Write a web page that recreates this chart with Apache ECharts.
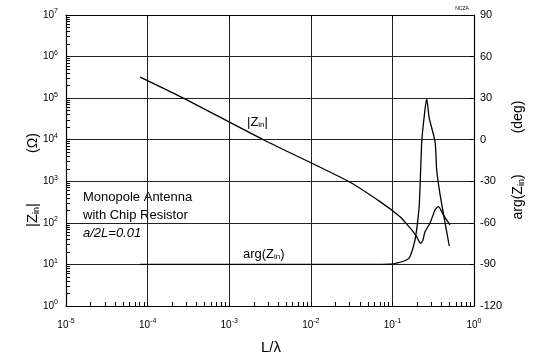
<!DOCTYPE html>
<html>
<head>
<meta charset="utf-8">
<script src="https://cdn.jsdelivr.net/npm/echarts@6/dist/echarts.min.js"></script>
<style>
html,body{margin:0;padding:0;background:#fff;}
#c{width:538px;height:361px;}
</style>
</head>
<body>
<div id="c"></div>
<script>
// L/lambda values and |Zin| (ohm)
const zX = [8.1e-5, 2.74e-4, 2.62e-3, 2.88e-2, 0.0705, 0.124, 0.15, 0.180, 0.199, 0.212, 0.222, 0.236, 0.251, 0.289, 0.333, 0.366, 0.402, 0.421, 0.508];
const zMag = [3.2e5, 1.0e5, 1.0e4, 1.0e3, 324, 141, 93, 61, 46, 36, 32, 38, 61, 98, 204, 245, 186, 155, 89];
// L/lambda values and arg(Zin) (deg)
const aX = [8.1e-5, 1e-3, 1e-2, 0.05, 0.0936, 0.113, 0.148, 0.164, 0.189, 0.203, 0.214, 0.229, 0.244, 0.263, 0.283, 0.333, 0.349, 0.38, 0.421, 0.498];
const aDeg = [-90, -90, -90, -90, -89.8, -89, -86.8, -84.4, -72.4, -60, -45.9, -1.4, 15.5, 29.4, 15.5, -1.4, -21.9, -38, -53.1, -76.7];
const rightTicks = [-120, -90, -60, -30, 0, 30, 60, 90];

const FONT = 'Liberation Sans';
const chart = echarts.init(document.getElementById('c'), null, {renderer: 'canvas'});

// tick positions: decades plus 2..9 per decade
function logTicks(lo, hi) {
  const out = [];
  for (let e = lo; e < hi; e++) for (let m = 1; m <= 9; m++) out.push(+(m * Math.pow(10, e)).toPrecision(3));
  out.push(Math.pow(10, hi));
  return out;
}
const xTicks = logTicks(-5, 0);
const yTicks = logTicks(0, 7);

function pow10Label(v) {
  const e = Math.round(Math.log10(v));
  return '{b|10}{s|' + e + '}';
}
const powRich = {
  b: {fontSize: 10, fontFamily: FONT, color: '#000'},
  s: {fontSize: 7, fontFamily: FONT, color: '#000', padding: [0, 0, 7, 0]}
};
const gridLine = {show: true, lineStyle: {color: '#222', width: 1}};
const axLine = {show: true, onZero: false, lineStyle: {color: '#000', width: 1.2}};
const majorTick = {show: true, inside: true, length: 4, lineStyle: {color: '#000', width: 1}};
function allTicks(vals) {
  return {show: true, inside: true, length: 4, customValues: vals, lineStyle: {color: '#000', width: 1}};
}

chart.setOption({
  animation: false,
  backgroundColor: '#fff',
  grid: {left: 66, right: 64, top: 15, bottom: 55, containLabel: false},
  xAxis: [{
    type: 'log', logBase: 10, min: 1e-5, max: 1, splitNumber: 5, position: 'bottom',
    axisLine: axLine, axisTick: allTicks(xTicks),
    axisLabel: {formatter: pow10Label, rich: powRich, margin: 12},
    splitLine: {show: false}
  }, {
    type: 'log', logBase: 10, min: 1e-5, max: 1, splitNumber: 5, position: 'top',
    axisLine: axLine, axisTick: majorTick,
    axisLabel: {show: false}, splitLine: gridLine
  }],
  yAxis: [{
    type: 'log', logBase: 10, min: 1, max: 1e7, splitNumber: 7, position: 'left',
    axisLine: axLine, axisTick: allTicks(yTicks),
    axisLabel: {formatter: pow10Label, rich: powRich, margin: 8},
    splitLine: {show: false}
  }, {
    type: 'value', min: -120, max: 90, interval: 30, position: 'right',
    axisLine: axLine, axisTick: majorTick,
    axisLabel: {fontSize: 11, fontFamily: FONT, color: '#000', margin: 6,
      formatter: v => rightTicks.includes(v) ? String(v) : ''},
    splitLine: gridLine
  }],
  series: [{
    type: 'line', xAxisIndex: 0, yAxisIndex: 0, showSymbol: false, smooth: 0.25,
    lineStyle: {color: '#000', width: 1.3},
    data: zX.map((x, i) => [x, zMag[i]])
  }, {
    type: 'line', xAxisIndex: 0, yAxisIndex: 1, showSymbol: false, smooth: 0.25,
    lineStyle: {color: '#000', width: 1.3},
    data: aX.map((x, i) => [x, aDeg[i]])
  }],
  graphic: [
    {type: 'text', x: 83, y: 197, style: {text: 'Monopole Antenna', font: '13px "Liberation Sans"', fill: '#000', verticalAlign: 'middle'}},
    {type: 'text', x: 83, y: 215, style: {text: 'with Chip Resistor', font: '13px "Liberation Sans"', fill: '#000', verticalAlign: 'middle'}},
    {type: 'text', x: 83, y: 233, style: {text: 'a/2L=0.01', font: 'italic 13px "Liberation Sans"', fill: '#000', verticalAlign: 'middle'}},
    {type: 'text', x: 247, y: 122, style: {text: '|Z{s|in}|', font: '13px "Liberation Sans"', fill: '#000', verticalAlign: 'middle',
      rich: {s: {fontSize: 8, fontFamily: FONT, padding: [6, 0, 0, 0]}}}},
    {type: 'text', x: 243, y: 254, style: {text: 'arg(Z{s|in})', font: '13px "Liberation Sans"', fill: '#000', verticalAlign: 'middle',
      rich: {s: {fontSize: 8, fontFamily: FONT, padding: [6, 0, 0, 0]}}}},
    {type: 'text', x: 33, y: 215, rotation: Math.PI / 2, style: {text: '|Z{s|in}|', font: '15px "Liberation Sans"', fill: '#000', align: 'center', verticalAlign: 'middle',
      rich: {s: {fontSize: 9, fontFamily: FONT, padding: [7, 0, 0, 0]}}}},
    {type: 'text', x: 33, y: 143, rotation: Math.PI / 2, style: {text: '(Ω)', font: '14px "Liberation Sans"', fill: '#000', align: 'center', verticalAlign: 'middle'}},
    {type: 'text', x: 518, y: 197, rotation: Math.PI / 2, style: {text: 'arg(Z{s|in})', font: '14px "Liberation Sans"', fill: '#000', align: 'center', verticalAlign: 'middle',
      rich: {s: {fontSize: 9, fontFamily: FONT, padding: [7, 0, 0, 0]}}}},
    {type: 'text', x: 518, y: 117, rotation: Math.PI / 2, style: {text: '(deg)', font: '14px "Liberation Sans"', fill: '#000', align: 'center', verticalAlign: 'middle'}},
    {type: 'text', x: 271, y: 348, style: {text: 'L/λ', font: '15px "Liberation Sans"', fill: '#000', align: 'center', verticalAlign: 'middle'}},
    {type: 'text', x: 462, y: 9, style: {text: 'NCZA', font: '5px "Liberation Sans"', fill: '#000', align: 'center', verticalAlign: 'middle'}}
  ]
});
</script>
</body>
</html>
